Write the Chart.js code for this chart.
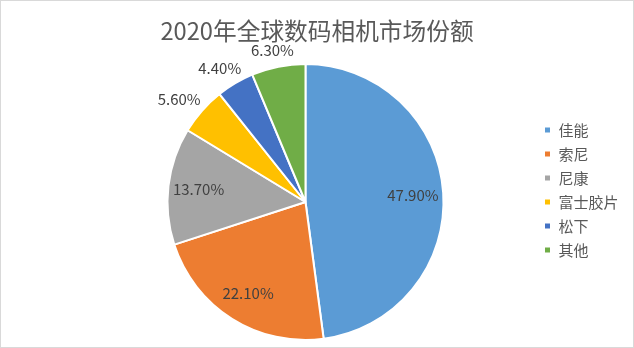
<!DOCTYPE html>
<html>
<head>
<meta charset="utf-8">
<script src="https://cdn.jsdelivr.net/npm/chart.js@4"></script>
<style>
  html, body { margin: 0; padding: 0; background: #fff; }
  #box { width: 634px; height: 348px; box-sizing: border-box; border: 1px solid #d9d9d9; }
  #box canvas { display: block; }
</style>
</head>
<body>
<div id="box"><canvas id="pie" width="632" height="346"></canvas></div>
<script>
const chartTitle = '2020年全球数码相机市场份额';
const brands = ['佳能', '索尼', '尼康', '富士胶片', '松下', '其他'];
const shares = [47.9, 22.1, 13.7, 5.6, 4.4, 6.3];
const colors = ['#5B9BD5', '#ED7D31', '#A5A5A5', '#FFC000', '#4472C4', '#70AD47'];
const FONT = '"Noto Sans CJK SC", "Microsoft YaHei", sans-serif';

// percent labels, inside for big slices, outside for small ones
const sliceLabels = {
  id: 'sliceLabels',
  afterDatasetsDraw(chart) {
    const ctx = chart.ctx;
    const meta = chart.getDatasetMeta(0);
    ctx.save();
    ctx.font = '15px ' + FONT;
    ctx.fillStyle = '#404040';
    ctx.textAlign = 'center';
    ctx.textBaseline = 'middle';
    meta.data.forEach((arc, i) => {
      const p = arc.getProps(['x', 'y', 'startAngle', 'endAngle', 'outerRadius'], true);
      const mid = (p.startAngle + p.endAngle) / 2;
      const dx = Math.cos(mid), dy = Math.sin(mid);
      const txt = shares[i].toFixed(2) + '%';
      let x, y;
      if (shares[i] >= 10) {
        x = p.x + dx * p.outerRadius * 0.78;
        y = p.y + dy * p.outerRadius * 0.78;
      } else {
        const hw = ctx.measureText(txt).width / 2, hh = 8;
        x = p.x + dx * (p.outerRadius + 9) + dx * hw;
        y = p.y + dy * (p.outerRadius + 9) + dy * hh;
      }
      ctx.fillText(txt, x, y);
    });
    ctx.restore();
  }
};

// title centred on the whole canvas (the built-in one only reserves the space)
const centredTitle = {
  id: 'centredTitle',
  afterDraw(chart) {
    const ctx = chart.ctx;
    ctx.save();
    ctx.font = '23.7px ' + FONT;
    ctx.fillStyle = '#595959';
    ctx.textAlign = 'center';
    ctx.textBaseline = 'middle';
    ctx.fillText(chartTitle, chart.width / 2, 30);
    ctx.restore();
  }
};

new Chart(document.getElementById('pie'), {
  type: 'pie',
  data: {
    labels: brands,
    datasets: [{ data: shares, backgroundColor: colors, borderColor: '#fff', borderWidth: 2, hoverOffset: 0 }]
  },
  options: {
    responsive: false,
    animation: false,
    layout: { padding: { left: 75, right: 4.5, top: 0, bottom: 6 } },
    plugins: {
      title: {
        display: true,
        text: chartTitle,
        color: 'rgba(0,0,0,0)',
        font: { family: FONT, size: 22, weight: 'normal' },
        padding: { top: 16, bottom: 19.6 }
      },
      legend: {
        position: 'right',
        title: { display: true, text: ' ', font: { size: 12 }, padding: { top: 23.6, bottom: 0 } },
        labels: {
          boxWidth: 7, boxHeight: 7, padding: 9,
          color: '#595959',
          font: { family: FONT, size: 15 }
        }
      },
      tooltip: { enabled: false }
    }
  },
  plugins: [sliceLabels, centredTitle]
});
</script>
</body>
</html>
